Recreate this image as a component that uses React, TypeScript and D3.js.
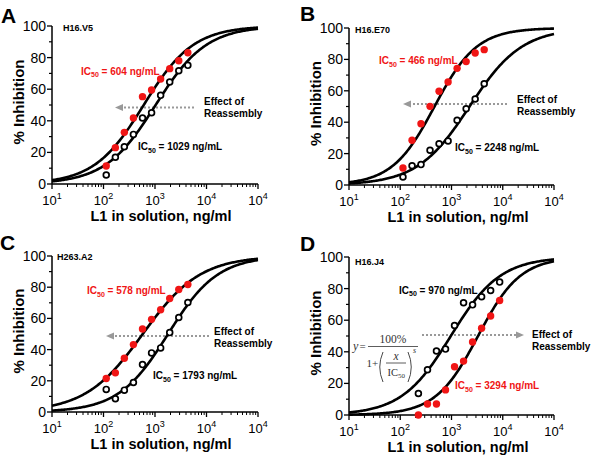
import React from "react";
import * as d3 from "d3";

// ---- data ----
const doseABC = [113, 170, 254, 381, 572, 858, 1287, 1931, 2896, 4345];
const doseD = [226, 340, 509, 764, 1146, 1719, 2578, 3867, 5801, 8702];

const aRed = [11.4, 23, 32.7, 41.8, 55.3, 59.5, 66.5, 73, 78, 83.1];
const aBlack = [5.7, 16.9, 23.6, 31.4, 41.8, 45.1, 56.1, 64.6, 71.7, 75.1];
const bRed = [10.8, 28.5, 39, 50.1, 59.7, 65.6, 74.3, 78.6, 84.1, 86.2];
const bBlack = [5.1, 12.3, 13, 22.1, 26.3, 28, 41.2, 48.6, 54.8, 64.5];
const cRed = [21.5, 25.1, 34.5, 43.2, 53.2, 59.4, 65.5, 72.8, 78.5, 81.7];
const cBlack = [14.5, 8.5, 14, 18.9, 30.4, 37.9, 41.1, 50.9, 60.6, 70.2];
const dBlack = [13.6, 28.6, 40.5, 41.7, 56.6, 71, 69.7, 74.8, 78.8, 84.1];
const dRed = [0, 7, 7, 15.9, 30.5, 34.1, 46.2, 54.9, 62.7, 72.5];

const panelLetters = ["A", "B", "C", "D"];
const panelNames = ["H16.V5", "H16.E70", "H263.A2", "H16.J4"];
const ic50Red = [604, 466, 578, 3294];
const ic50Black = [1029, 2248, 1793, 970];
const slopeRed = [0.9, 1.05, 0.78, 1.05];
const slopeBlack = [0.88, 0.85, 0.9, 0.9];

const xTickExponents = ["1", "2", "3", "4", "4"];
const yTicks = [0, 20, 40, 60, 80, 100];
const yMinorTicks = [10, 30, 50, 70, 90];
const xTitle = "L1 in solution, ng/ml";
const yTitle = "% Inhibition";

const RED = "#f01515";

// ---- layout ----
const layouts = [
  { x0: 52, x1: 258, yT: 26, yB: 184, letter: [1, 23], name: [63, 31], red: [81, 74.5], black: [138, 150], arrow: [115, 194, 107.5], dir: -1, effect: [204, 105] },
  { x0: 349, x1: 554, yT: 28, yB: 185, letter: [300, 21], name: [355, 33], red: [379, 64], black: [455, 151], arrow: [403, 507, 104], dir: -1, effect: [517, 102.5] },
  { x0: 52, x1: 258, yT: 256, yB: 412, letter: [0, 250], name: [57, 260], red: [87, 294], black: [153, 379], arrow: [106, 209, 336], dir: -1, effect: [214, 335] },
  { x0: 349, x1: 554, yT: 257, yB: 415, letter: [300, 251], name: [355, 265], red: [455, 389], black: [399, 293.5], arrow: [422, 524, 335], dir: 1, effect: [532, 337.5] },
];

const seriesRed = [aRed, bRed, cRed, dRed];
const seriesBlack = [aBlack, bBlack, cBlack, dBlack];
const doses = [doseABC, doseABC, doseABC, doseD];

const FONT = "Liberation Sans, Arial, Helvetica, sans-serif";

function IcLabel({ x, y, value, color }: { x: number; y: number; value: number; color: string }) {
  return (
    <text x={x} y={y} fill={color} fontFamily={FONT} fontWeight="bold" fontSize={10}>
      IC
      <tspan fontSize={7} dy={2.5}>50</tspan>
      <tspan dy={-2.5}>{` = ${value} ng/mL`}</tspan>
    </text>
  );
}

function Panel({ i }: { i: number }) {
  const L = layouts[i];
  const x = d3.scaleLog().domain([10, 100000]).range([L.x0, L.x1]);
  const y = d3.scaleLinear().domain([0, 100]).range([L.yB, L.yT]);
  const hill = (ic: number, s: number) => (v: number) => 100 / (1 + Math.pow(ic / v, s));
  const samples = d3.range(0, 201).map((k) => Math.pow(10, 1 + (4 * k) / 200));
  const line = (f: (v: number) => number) =>
    d3.line<number>().x((v) => x(v)).y((v) => y(f(v)))(samples) || "";
  const majors = [10, 100, 1000, 10000, 100000];
  const minors: number[] = [];
  for (let dec = 1; dec <= 4; dec++) for (let k = 2; k <= 9; k++) minors.push(k * Math.pow(10, dec));
  const [ax0, ax1, ay] = L.arrow;
  const head = L.dir < 0 ? ax0 : ax1;
  const tail = L.dir < 0 ? ax1 : ax0;
  const headBase = head - L.dir * 8;
  return (
    <g>
      <text x={L.letter[0]} y={L.letter[1]} fontFamily={FONT} fontWeight="bold" fontSize={21}>
        {panelLetters[i]}
      </text>
      {/* axes */}
      <line x1={L.x0} x2={L.x0} y1={y(0)} y2={y(100)} stroke="#000" strokeWidth={1.5} />
      <line x1={L.x0} x2={L.x1} y1={y(0)} y2={y(0)} stroke="#000" strokeWidth={1.5} />
      {yTicks.map((t) => (
        <g key={"y" + t}>
          <line x1={L.x0 - 5} x2={L.x0} y1={y(t)} y2={y(t)} stroke="#000" strokeWidth={1.3} />
          <text x={L.x0 - 6} y={y(t)} dy="0.36em" textAnchor="end" fontFamily={FONT} fontSize={14}>
            {t}
          </text>
        </g>
      ))}
      {yMinorTicks.map((t) => (
        <line key={"ym" + t} x1={L.x0 - 3} x2={L.x0} y1={y(t)} y2={y(t)} stroke="#000" strokeWidth={1.2} />
      ))}
      {majors.map((t, k) => (
        <g key={"x" + t}>
          <line x1={x(t)} x2={x(t)} y1={L.yB} y2={L.yB + 5} stroke="#000" strokeWidth={1.3} />
          <text x={x(t)} y={L.yB + 21} textAnchor="middle" fontFamily={FONT} fontSize={13}>
            10
            <tspan fontSize={9} dy={-6}>{xTickExponents[k]}</tspan>
          </text>
        </g>
      ))}
      {minors.map((t) => (
        <line key={"xm" + t} x1={x(t)} x2={x(t)} y1={L.yB} y2={L.yB + 3} stroke="#000" strokeWidth={1} />
      ))}
      <text
        x={L.x0 + 109}
        y={L.yB + 37}
        textAnchor="middle"
        fontFamily={FONT}
        fontWeight="bold"
        fontSize={14.5}
      >
        {xTitle}
      </text>
      <text
        transform={`translate(${L.x0 - 28},${(L.yT + L.yB) / 2 - 3}) rotate(-90)`}
        textAnchor="middle"
        fontFamily={FONT}
        fontWeight="bold"
        fontSize={15}
      >
        {yTitle}
      </text>
      <text x={L.name[0]} y={L.name[1]} fontFamily={FONT} fontWeight="bold" fontSize={9}>
        {panelNames[i]}
      </text>
      {/* arrow */}
      <line x1={tail} x2={headBase} y1={ay} y2={ay} stroke="#999" strokeWidth={2.2} strokeDasharray="2,2" />
      <path d={`M${head},${ay} L${headBase},${ay - 3.5} L${headBase},${ay + 3.5} Z`} fill="#999" />
      <text x={L.effect[0]} y={L.effect[1]} fontFamily={FONT} fontWeight="bold" fontSize={10}>
        Effect of
      </text>
      <text x={L.effect[0]} y={L.effect[1] + 12} fontFamily={FONT} fontWeight="bold" fontSize={10}>
        Reassembly
      </text>
      {/* curves */}
      <path d={line(hill(ic50Red[i], slopeRed[i]))} fill="none" stroke="#000" strokeWidth={2.6} />
      <path d={line(hill(ic50Black[i], slopeBlack[i]))} fill="none" stroke="#000" strokeWidth={2.6} />
      {/* points */}
      {seriesBlack[i].map((v, k) => (
        <circle key={"b" + k} cx={x(doses[i][k])} cy={y(v)} r={2.9} fill="#fff" stroke="#000" strokeWidth={1.7} />
      ))}
      {seriesRed[i].map((v, k) => (
        <circle key={"r" + k} cx={x(doses[i][k])} cy={y(v)} r={3.7} fill={RED} />
      ))}
      <IcLabel x={L.red[0]} y={L.red[1]} value={ic50Red[i]} color={RED} />
      <IcLabel x={L.black[0]} y={L.black[1]} value={ic50Black[i]} color="#000" />
    </g>
  );
}

function Formula() {
  const SERIF = "Liberation Serif, Times New Roman, serif";
  const c = "#333";
  return (
    <g fill={c} fontFamily={SERIF}>
      <text x={353} y={350} fontSize={12} fontStyle="italic">y</text>
      <text x={359.5} y={350} fontSize={11}>=</text>
      <line x1={368} x2={418} y1={346.5} y2={346.5} stroke={c} strokeWidth={0.8} />
      <text x={393} y={343} fontSize={11.5} textAnchor="middle">100%</text>
      <text x={366.5} y={367} fontSize={11}>1+</text>
      <path d="M383,352 Q376.5,367 383,382" fill="none" stroke={c} strokeWidth={0.9} />
      <path d="M408,352 Q414.5,367 408,382" fill="none" stroke={c} strokeWidth={0.9} />
      <text x={396} y={360} fontSize={11.5} fontStyle="italic" textAnchor="middle">x</text>
      <line x1={386} x2={406} y1={363} y2={363} stroke={c} strokeWidth={0.8} />
      <text x={387.5} y={376} fontSize={10.5}>
        IC<tspan fontSize={7} dy={2}>50</tspan>
      </text>
      <text x={413} y={353} fontSize={8} fontStyle="italic">s</text>
    </g>
  );
}

export default function App() {
  return (
    <svg
      width={600}
      height={458}
      viewBox="0 0 600 458"
      style={{ position: "absolute", left: 0, top: 0, display: "block", background: "#fff" }}
    >
      <rect width={600} height={458} fill="#fff" />
      {[0, 1, 2, 3].map((i) => (
        <Panel key={i} i={i} />
      ))}
      <Formula />
    </svg>
  );
}
